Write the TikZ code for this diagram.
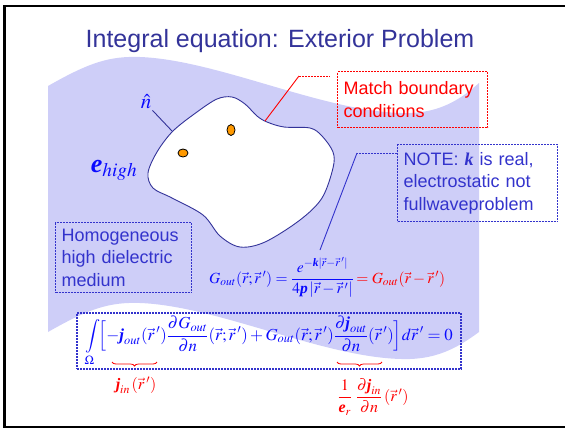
\documentclass[tikz,border=0pt]{standalone}
\usepackage{amsmath}
\usepackage{mathptmx}
\usepackage[no-math]{fontspec}
\setmainfont{Liberation Sans}
\newfontfamily\tnr{Liberation Serif}
\usetikzlibrary{positioning,decorations.pathreplacing}

\definecolor{titleblue}{RGB}{51,51,153}
\definecolor{boxblue}{RGB}{51,51,204}
\definecolor{eqblue}{RGB}{10,10,255}
\definecolor{wavefill}{RGB}{206,206,248}
\definecolor{dotorange}{RGB}{255,153,0}
\newcommand{\bsym}[1]{\text{\tnr\bfseries\itshape #1}}

\begin{document}
\begin{tikzpicture}[
    x=1pt, y=-1pt,
    every node/.style={inner sep=0pt},
    note/.style={draw, line width=1.2pt, dash pattern=on 2pt off 1pt,
                 anchor=north west, align=left, inner xsep=6pt,
                 font=\fontsize{18}{22.5}\selectfont},
    bluenote/.style={note, draw=boxblue, text=boxblue},
    rednote/.style={note, draw=red, text=red},
    callout/.style={line width=0.9pt},
    dashpart/.style={callout, dash pattern=on 2pt off 1pt},
    blob/.style={draw=titleblue, line width=0.9pt, fill=white},
    dot/.style={draw=black, line width=0.8pt, fill=dotorange},
    eq/.style={text=eqblue, font=\fontsize{16.8}{20}\selectfont},
    eqred/.style={text=red, font=\fontsize{15.5}{18}\selectfont},
    redbrace/.style={draw=red, line width=0.8pt, decorate,
                     decoration={brace, mirror, amplitude=4pt}},
  ]
  \useasboundingbox (0,0) rectangle (565,429);
  \draw[line width=2.3pt] (4.5,6) rectangle (567,427);

  % title
  \node[text=titleblue, font=\fontsize{25}{30}\selectfont] (title) at (280,41)
    {Integral equation: Exterior Problem};

  % high dielectric medium
  \fill[wavefill] (48,86) .. controls (90,62) and (110,56) .. (140,57)
    .. controls (220,60) and (330,115) .. (410,113)
    .. controls (440,112) and (460,100) .. (479,83) -- (479,332)
    .. controls (460,346) and (440,358) .. (410,359)
    .. controls (330,361) and (220,306) .. (140,303)
    .. controls (110,302) and (90,308) .. (48,332) -- cycle;

  % the object
  \draw[blob] plot[smooth cycle, tension=0.55] coordinates {
    (148,173) (157,152) (173,131) (197,112) (217,99) (232,97) (245,104)
    (257,116) (267,122) (284,127) (310,128) (322,136) (333,152) (333,168)
    (322,198) (300,220) (265,242) (240,247) (220,236) (203,215) (172,198)
    (153,188)};
  \draw[dot] (231,130) ellipse [x radius=4pt, y radius=5.5pt];
  \draw[dot] (183,153) ellipse [x radius=5pt, y radius=4pt];

  \node[text=eqblue, font=\fontsize{21}{24}\selectfont, inner sep=1pt] (nhat) at (146,102) {$\hat{n}$};
  \coordinate (nfoot) at (172,131);
  \draw[titleblue, callout] (nhat.south east) -- (nfoot);

  \node[text=eqblue, font=\fontsize{26}{30}\selectfont] (ehigh) at (114,170)
    {$\bsym{e}_{\mathit{high}}$};

  % notes
  \node[rednote, text width=138pt, minimum height=56pt] (match) at (337,71)
    {Match boundary\\conditions};
  \coordinate (matchpt) at (265,121);
  \coordinate (matchknee) at (299,76);
  \coordinate (matchend) at (330,76);
  \draw[red, callout] (matchpt) -- (matchknee);
  \draw[red, dashpart] (matchknee) -- (matchend);

  \node[bluenote, text width=148pt, minimum height=77pt] (note) at (397,144)
    {NOTE: {\tnr\bfseries\itshape k} is real,\\electrostatic not\\fullwaveproblem};
  \coordinate (noteknee) at (357,153);
  \coordinate (notept) at (320,250);
  \draw[boxblue, dashpart] (note.west |- noteknee) -- (noteknee);
  \draw[boxblue, callout] (noteknee) -- (notept);

  \node[bluenote, text width=124pt, minimum height=70pt] (medium) at (55,222)
    {Homogeneous\\high dielectric\\medium};

  % Green's function
  \node[eq, font=\fontsize{15.5}{18}\selectfont, anchor=base west] (gfun) at (209,283)
    {$G_{out}(\vec r;\vec r\,')=\dfrac{e^{-\bsym{k}|\vec r-\vec r\,'|}}{4\bsym{p}\,|\vec r-\vec r\,'|}$};
  \node[eqred, anchor=base west] (gred) at ([xshift=2pt]gfun.base east)
    {$=G_{out}(\vec r-\vec r\,')$};

  % integral equation
  \node[draw=boxblue, line width=1.2pt, dash pattern=on 2pt off 1pt,
        minimum width=384pt, minimum height=56pt, eq] (inteq) at (269,341)
    {$\displaystyle\int\limits_{\Omega}\!\Bigl[-\bsym{j}_{out}(\vec r\,')
      \frac{\partial G_{out}}{\partial n}(\vec r;\vec r\,')
      +G_{out}(\vec r;\vec r\,')\frac{\partial\bsym{j}_{out}}{\partial n}(\vec r\,')\Bigr]
      d\vec r\,'=0$};

  \coordinate (b1l) at (112,362);
  \coordinate (b1r) at (157,362);
  \coordinate (b2l) at (337,362);
  \coordinate (b2r) at (382,362);
  \draw[redbrace] (b1l) -- (b1r);
  \draw[redbrace] (b2l) -- (b2r);

  \node[eqred, font=\fontsize{16}{19}\selectfont] (jin) at (136,385)
    {$\bsym{j}_{in}\,(\vec r\,')$};
  \node[eqred, font=\fontsize{16}{19}\selectfont] (djin) at (373,397)
    {$\dfrac{1}{\bsym{e}_r}\;\dfrac{\partial\bsym{j}_{in}}{\partial n}\,(\vec r\,')$};
\end{tikzpicture}
\end{document}
